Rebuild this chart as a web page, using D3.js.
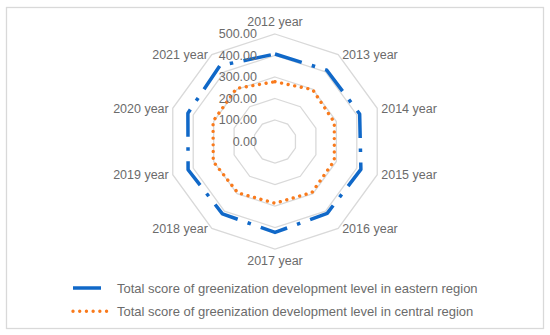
<!DOCTYPE html>
<html>
<head>
<meta charset="utf-8">
<script src="https://cdn.jsdelivr.net/npm/d3@7"></script>
<style>
  body { margin: 0; background: #fff; }
  text { font-family: "Liberation Sans", Arial, sans-serif; fill: #6b6b6b; }
</style>
</head>
<body>
<script>
var years = ["2012 year", "2013 year", "2014 year", "2015 year", "2016 year",
             "2017 year", "2018 year", "2019 year", "2020 year", "2021 year"];
var eastern = [407, 410, 414, 420, 413, 423, 416, 425, 426, 436];
var central = [278, 298, 290, 290, 293, 287, 295, 302, 303, 305];
var ticks = [0, 100, 200, 300, 400, 500];
var seriesNames = ["Total score of greenization development level in eastern region",
                   "Total score of greenization development level in central region"];

var w = 550, h = 335;
var cx = 275, cy = 141.5, R = 107.5;

var svg = d3.select("body").append("svg")
    .attr("width", w)
    .attr("height", h);

//outer frame
svg.append("rect")
    .attr("x", 6.5).attr("y", 7.5)
    .attr("width", 537).attr("height", 321)
    .attr("fill", "#fff")
    .attr("stroke", "#d9d9d9")
    .attr("stroke-width", 1.3);

var r = d3.scaleLinear().domain([0, 500]).range([0, R]);
var angle = d3.scaleLinear().domain([0, years.length]).range([0, 2 * Math.PI]);

function pt(i, v){
    var a = angle(i);
    return [cx + r(v) * Math.sin(a), cy - r(v) * Math.cos(a)];
}

var g = svg.append("g");

//ring gridlines
g.selectAll(".ring")
    .data(ticks.slice(1))
    .enter()
    .append("polygon")
    .attr("class", "ring")
    .attr("points", function(t){
        return years.map(function(d, i){ return pt(i, t).join(","); }).join(" ");
    })
    .attr("fill", "none")
    .attr("stroke", "#d9d9d9")
    .attr("stroke-width", 1.3);

var line = d3.line().curve(d3.curveLinearClosed);

//series
var series = [
    {values: eastern, color: "#1068c8", width: 3.5, dash: "28,10.5,3.5,10.5", cap: "butt"},
    {values: central, color: "#f97a1c", width: 3.4, dash: "0.01,6.7", cap: "round"}
];

g.selectAll(".series")
    .data(series)
    .enter()
    .append("path")
    .attr("class", "series")
    .attr("d", function(s){
        return line(s.values.map(function(v, i){ return pt(i, v); }));
    })
    .attr("fill", "none")
    .attr("stroke", function(s){ return s.color; })
    .attr("stroke-width", function(s){ return s.width; })
    .attr("stroke-dasharray", function(s){ return s.dash; })
    .attr("stroke-linecap", function(s){ return s.cap; })
    .attr("stroke-linejoin", "round");

//tick labels along the top axis
g.selectAll(".tick")
    .data(ticks)
    .enter()
    .append("text")
    .attr("class", "tick")
    .attr("x", cx - 18)
    .attr("y", function(d){ return cy - r(d); })
    .attr("dy", "0.35em")
    .attr("text-anchor", "end")
    .style("font-size", "12.5px")
    .text(function(d){ return d.toFixed(2); });

//category labels
g.selectAll(".cat")
    .data(years)
    .enter()
    .append("text")
    .attr("class", "cat")
    .attr("x", function(d, i){
        var s = Math.sin(angle(i));
        var p = pt(i, 500);
        if (Math.abs(s) < 0.01) return p[0];
        return p[0] + (s > 0 ? 4 : -4);
    })
    .attr("y", function(d, i){
        var c = Math.cos(angle(i));
        var p = pt(i, 500);
        if (c > 0.99) return p[1] - 12;
        if (c < -0.99) return p[1] + 12;
        return p[1];
    })
    .attr("dy", "0.35em")
    .attr("text-anchor", function(d, i){
        var s = Math.sin(angle(i));
        if (Math.abs(s) < 0.01) return "middle";
        return s > 0 ? "start" : "end";
    })
    .style("font-size", "12.5px")
    .text(function(d){ return d; });

//legend
var legend = svg.selectAll(".legend")
    .data(series)
    .enter()
    .append("g")
    .attr("class", "legend")
    .attr("transform", function(d, i){ return "translate(73," + (288 + i * 23.3) + ")"; });

legend.append("line")
    .attr("x1", 0).attr("x2", 38.5)
    .attr("y1", 0).attr("y2", 0)
    .attr("stroke", function(s){ return s.color; })
    .attr("stroke-width", function(s){ return s.width; })
    .attr("stroke-dasharray", function(s){ return s.dash; })
    .attr("stroke-linecap", function(s){ return s.cap; });

legend.append("text")
    .attr("x", 44)
    .attr("y", 0)
    .attr("dy", "0.35em")
    .style("font-size", "13px")
    .text(function(d, i){ return seriesNames[i]; });
</script>
</body>
</html>
